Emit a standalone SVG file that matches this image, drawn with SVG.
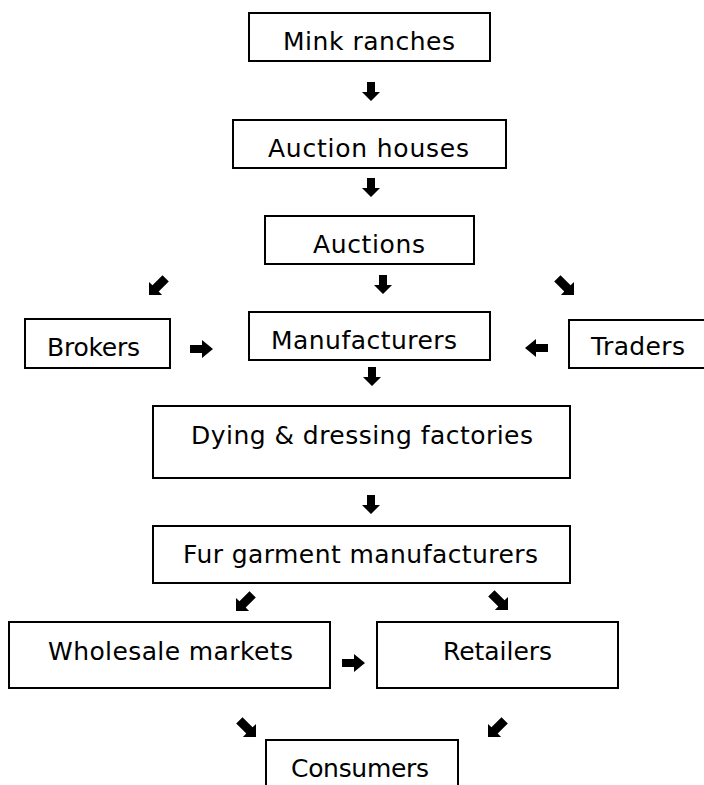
<svg xmlns="http://www.w3.org/2000/svg" xmlns:xlink="http://www.w3.org/1999/xlink" width="704" height="785" viewBox="0 0 704 785">
<style>
.box{fill:#fff;stroke:#000;stroke-width:2}
.t{font-family:"DejaVu Sans","Verdana",sans-serif;font-size:25px;fill:#000}
.arw{fill:#000}
</style>
<defs>
<path id="ad" d="M5,0 H13 V10 H18 L9,19 L0,10 H5 Z"/>
<path id="ar" d="M0,5 H12 V0 L23,9 L12,18 V13 H0 Z"/>
<path id="adl" d="M0,20 L0,6.9 L3.45,10.35 L13.5,0.2 L19.8,6.5 L9.7,16.6 L13.1,20 Z"/>
</defs>
<rect width="704" height="785" fill="#fff"/>
<g id="mink"><rect class="box" x="249" y="13" width="241" height="48"/><text class="t" x="283" y="50" textLength="172">Mink ranches</text></g>
<g id="auction-houses"><rect class="box" x="233" y="120" width="273" height="48"/><text class="t" x="268" y="157" textLength="201">Auction houses</text></g>
<g id="auctions"><rect class="box" x="265" y="216" width="209" height="48"/><text class="t" x="313" y="253" textLength="112">Auctions</text></g>
<g id="brokers"><rect class="box" x="25" y="319" width="145" height="49"/><text class="t" x="47" y="356" textLength="93">Brokers</text></g>
<g id="manufacturers"><rect class="box" x="249" y="312" width="241" height="48"/><text class="t" x="271" y="349" textLength="186">Manufacturers</text></g>
<g id="traders"><rect class="box" x="569" y="320" width="145" height="48"/><text class="t" x="591" y="355" textLength="94">Traders</text></g>
<g id="dying"><rect class="box" x="153" y="406" width="417" height="72"/><text class="t" x="191" y="444" textLength="342">Dying &amp; dressing factories</text></g>
<g id="fur"><rect class="box" x="153" y="526" width="417" height="57"/><text class="t" x="183" y="563" textLength="355">Fur garment manufacturers</text></g>
<g id="wholesale"><rect class="box" x="9" y="622" width="321" height="66"/><text class="t" x="48" y="660" textLength="245">Wholesale markets</text></g>
<g id="retailers"><rect class="box" x="377" y="622" width="241" height="66"/><text class="t" x="443" y="660" textLength="109">Retailers</text></g>
<g id="consumers"><rect class="box" x="266" y="740" width="192" height="60"/><text class="t" x="291" y="777" textLength="138">Consumers</text></g>
<g id="connectors" class="arw">
<use xlink:href="#ad" x="362" y="82"/>
<use xlink:href="#ad" x="362" y="178"/>
<use xlink:href="#ad" x="374" y="275"/>
<use xlink:href="#ad" x="363" y="367"/>
<use xlink:href="#ad" x="362" y="495"/>
<use xlink:href="#ar" x="190" y="340"/>
<use xlink:href="#ar" transform="translate(548,339) scale(-1,1)"/>
<use xlink:href="#ar" x="342" y="654"/>
<use xlink:href="#adl" x="149" y="275"/>
<use xlink:href="#adl" transform="translate(574,275) scale(-1,1)"/>
<use xlink:href="#adl" x="236" y="591"/>
<use xlink:href="#adl" transform="translate(508,590) scale(-1,1)"/>
<use xlink:href="#adl" transform="translate(256,717) scale(-1,1)"/>
<use xlink:href="#adl" x="488" y="717"/>
</g>
</svg>
